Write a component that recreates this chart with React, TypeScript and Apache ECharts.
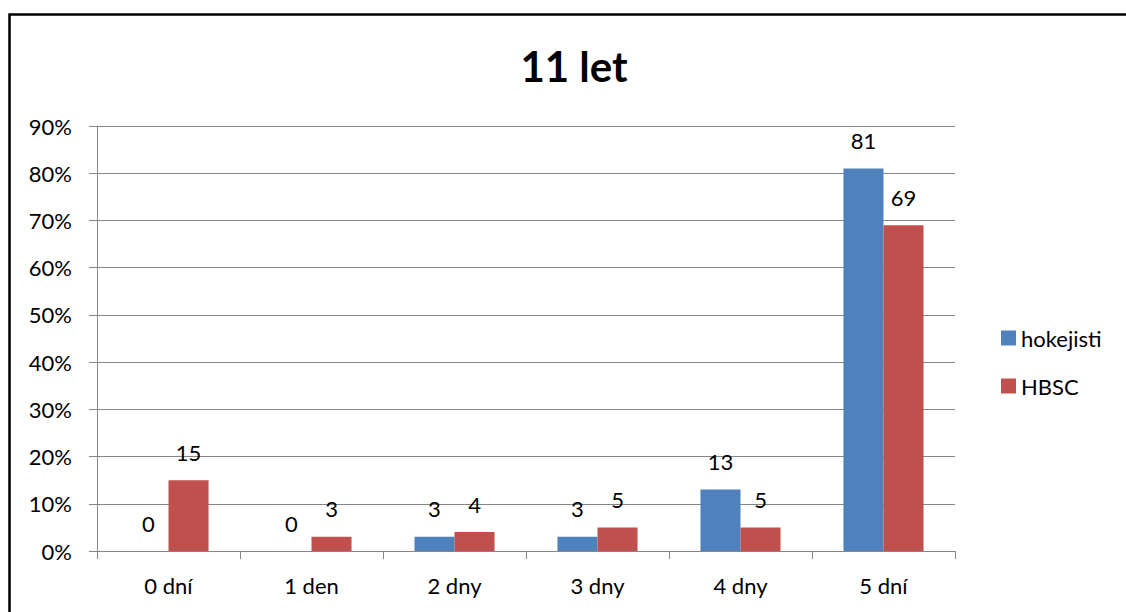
import React, { useEffect, useRef } from "react";
import * as echarts from "echarts";

const categories = ["0 dní", "1 den", "2 dny", "3 dny", "4 dny", "5 dní"];
const hokejisti = [0, 0, 3, 3, 13, 81];
const hbsc = [15, 3, 4, 5, 5, 69];
const seriesNames = ["hokejisti", "HBSC"];
const titleText = "11 let";

const FONT = "Lato, 'Open Sans', sans-serif";

export default function App() {
  const ref = useRef<HTMLDivElement>(null);

  useEffect(() => {
    if (!ref.current) return;
    const chart = echarts.init(ref.current, undefined, { renderer: "svg" });
    const labelStyle = {
      show: true,
      position: "top" as const,
      distance: 17,
      color: "#000",
      fontFamily: FONT,
      fontSize: 22,
    };
    chart.setOption({
      animation: false,
      backgroundColor: "#fff",
      title: {
        text: titleText,
        left: 569,
        top: 40,
        textAlign: "center",
        textStyle: { fontFamily: FONT, fontWeight: "bold", fontSize: 42, color: "#000" },
      },
      graphic: [
        {
          type: "rect",
          shape: { x: 9.5, y: 14.5, width: 2000, height: 2000 },
          style: { fill: "none", stroke: "#000", lineWidth: 2.5 },
          silent: true,
        },
      ],
      legend: {
        orient: "vertical",
        left: 996,
        top: 320,
        itemWidth: 15,
        itemHeight: 15,
        itemGap: 22,
        icon: "rect",
        data: seriesNames,
        textStyle: {
          fontFamily: FONT,
          fontSize: 22,
          color: "#000",
          lineHeight: 26,
        },
      },
      grid: { left: 97, right: 171, top: 126, bottom: 61 },
      xAxis: {
        type: "category",
        data: categories,
        axisLine: { lineStyle: { color: "#868686", width: 1 } },
        axisTick: { show: true, length: 8, lineStyle: { color: "#868686" } },
        axisLabel: { margin: 23, color: "#000", fontFamily: FONT, fontSize: 22 },
      },
      yAxis: {
        type: "value",
        min: 0,
        max: 90,
        interval: 10,
        axisLine: { show: true, lineStyle: { color: "#868686", width: 1 } },
        axisTick: { show: true, length: 8, lineStyle: { color: "#868686" } },
        splitLine: { lineStyle: { color: "#868686", width: 1 } },
        axisLabel: {
          formatter: "{value}%",
          margin: 25,
          color: "#000",
          fontFamily: FONT,
          fontSize: 22,
        },
      },
      series: [
        {
          name: seriesNames[0],
          type: "bar",
          data: hokejisti,
          barGap: "0%",
          barCategoryGap: "44%",
          itemStyle: { color: "#4F81BD" },
          label: labelStyle,
        },
        {
          name: seriesNames[1],
          type: "bar",
          data: hbsc,
          itemStyle: { color: "#C0504D" },
          label: labelStyle,
        },
      ],
    });
    return () => chart.dispose();
  }, []);

  return (
    <div
      ref={ref}
      style={{ position: "fixed", left: 0, top: 0, width: 1126, height: 612 }}
    />
  );
}
